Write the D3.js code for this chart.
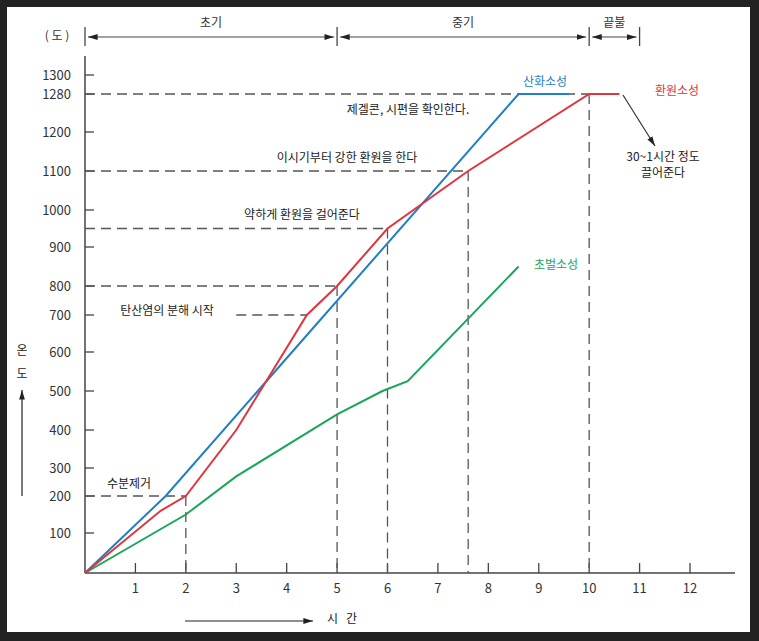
<!DOCTYPE html>
<html><head><meta charset="utf-8">
<script src="https://cdn.jsdelivr.net/npm/d3@7"></script>
<style>body{margin:0;background:#222;} text{font-family:"Noto Sans CJK KR","Noto Sans",sans-serif;}</style>
</head><body>
<svg id="chart" width="759" height="641"></svg>
<script>
// data
var yTicks = [100, 200, 300, 400, 500, 600, 700, 800, 900, 1000, 1100, 1200, 1280, 1300];
var xTicks = [1, 2, 3, 4, 5, 6, 7, 8, 9, 10, 11, 12];
var oxid = [[0, 0], [1.6, 200], [8.6, 1280], [9.6, 1280]];
var reduc = [[0, 0], [1.5, 160], [2, 200], [3, 400], [4.4, 700], [5, 800], [6, 950], [7.6, 1100], [10, 1280], [10.6, 1280]];
var bisque = [[0, 0], [2, 150], [3, 270], [5, 440], [5.9, 500], [6.4, 525], [8.6, 850]];
var phases = [["초기", 0, 5], ["중기", 5, 10], ["끝불", 10, 11]];
// [temp, x start, x end]
var hGuides = [[200, 0, 2], [700, 3.0, 4.4], [800, 0, 5], [950, 0, 6], [1100, 0, 7.6], [1280, 0, 10]];
var vGuides = [[2, 200], [5, 800], [6, 950], [7.6, 1100], [10, 1280]];

var svg = d3.select("#chart");
svg.append("rect").attr("x", 7).attr("y", 7).attr("width", 743).attr("height", 625).attr("fill", "white");

var x = d3.scaleLinear().domain([0, 12]).range([85, 690]);
// the hand drawn temperature axis is not even, so piecewise
var y = d3.scaleLinear()
	.domain([0, 100, 200, 300, 400, 500, 600, 700, 800, 900, 1000, 1100, 1200, 1280, 1300])
	.range([573, 533, 496, 468, 430, 391, 352, 315, 286, 247, 210, 171, 132, 94, 75]);

var ax = "#444";
svg.append("line").attr("x1", 85).attr("x2", 85).attr("y1", 56).attr("y2", 573).attr("stroke", ax).attr("stroke-width", 1.5);
svg.append("line").attr("x1", 85).attr("x2", 735).attr("y1", 573).attr("y2", 573).attr("stroke", ax).attr("stroke-width", 1.5);

svg.selectAll(".yt").data(yTicks).enter().append("line")
	.attr("x1", 85).attr("x2", 94).attr("y1", function(d) { return y(d); }).attr("y2", function(d) { return y(d); })
	.attr("stroke", ax).attr("stroke-width", 1.3);
svg.selectAll(".yl").data(yTicks).enter().append("text")
	.attr("x", 71).attr("y", function(d) { return y(d) + 5; }).attr("text-anchor", "end")
	.attr("font-size", 13).attr("fill", "#333").text(function(d) { return d; });
svg.selectAll(".xt").data(xTicks).enter().append("line")
	.attr("x1", function(d) { return x(d); }).attr("x2", function(d) { return x(d); })
	.attr("y1", 573).attr("y2", 563).attr("stroke", ax).attr("stroke-width", 1.3);
svg.selectAll(".xl").data(xTicks).enter().append("text")
	.attr("x", function(d) { return x(d); }).attr("y", 593).attr("text-anchor", "middle")
	.attr("font-size", 13).attr("fill", "#333").text(function(d) { return d; });

// guides
var dash = "10,6";
svg.selectAll(".hg").data(hGuides).enter().append("line")
	.attr("x1", function(d) { return x(d[1]); }).attr("x2", function(d) { return x(d[2]); })
	.attr("y1", function(d) { return y(d[0]); }).attr("y2", function(d) { return y(d[0]); })
	.attr("stroke", "#555").attr("stroke-width", 1.3).attr("stroke-dasharray", dash);
svg.selectAll(".vg").data(vGuides).enter().append("line")
	.attr("x1", function(d) { return x(d[0]); }).attr("x2", function(d) { return x(d[0]); })
	.attr("y1", function(d) { return y(d[1]); }).attr("y2", 573)
	.attr("stroke", "#555").attr("stroke-width", 1.3).attr("stroke-dasharray", dash);

// phases on top
var defs = svg.append("defs");
defs.append("marker").attr("id", "ah").attr("viewBox", "0 0 10 10").attr("refX", 10).attr("refY", 5)
	.attr("markerWidth", 8).attr("markerHeight", 8).attr("orient", "auto-start-reverse")
	.append("path").attr("d", "M0,2L10,5L0,8Z").attr("fill", "#222");
var bars = [0, 5, 10, 11];
svg.selectAll(".pb").data(bars).enter().append("line")
	.attr("x1", function(d) { return x(d); }).attr("x2", function(d) { return x(d); })
	.attr("y1", 27).attr("y2", 46).attr("stroke", "#444").attr("stroke-width", 1.3);
svg.selectAll(".pa").data(phases).enter().append("line")
	.attr("x1", function(d) { return x(d[1]) + 3; }).attr("x2", function(d) { return x(d[2]) - 3; })
	.attr("y1", 37).attr("y2", 37).attr("stroke", "#444").attr("stroke-width", 1.2)
	.attr("marker-start", "url(#ah)").attr("marker-end", "url(#ah)");
svg.selectAll(".pt").data(phases).enter().append("text")
	.attr("x", function(d) { return (x(d[1]) + x(d[2])) / 2; }).attr("y", 27).attr("text-anchor", "middle")
	.attr("font-size", 12).attr("fill", "#333").text(function(d) { return d[0]; });
svg.append("text").attr("x", 57).attr("y", 40).attr("text-anchor", "middle").attr("font-size", 12).attr("fill", "#333").text("(  도  )");

// series
var line = d3.line().x(function(d) { return x(d[0]); }).y(function(d) { return y(d[1]); });
var series = [[oxid, "#1f7fc4"], [bisque, "#1aa65a"], [reduc, "#e0353f"]];
series.forEach(function(s) {
	svg.append("path").attr("d", line(s[0])).attr("fill", "none").attr("stroke", s[1]).attr("stroke-width", 2);
});
svg.append("text").attr("x", 545).attr("y", 86).attr("text-anchor", "middle").attr("font-size", 12).attr("fill", "#1f7fc4").text("산화소성");
svg.append("text").attr("x", 677).attr("y", 95).attr("text-anchor", "middle").attr("font-size", 12).attr("fill", "#e0353f").text("환원소성");
svg.append("text").attr("x", 556).attr("y", 269).attr("text-anchor", "middle").attr("font-size", 12).attr("fill", "#1aa65a").text("초벌소성");

// notes
function note(t, cx, cy) {
	svg.append("text").attr("x", cx).attr("y", cy).attr("text-anchor", "middle").attr("font-size", 12).attr("fill", "#222").text(t);
}
note("제겔콘, 시편을 확인한다.", 408, 114);
note("이시기부터 강한 환원을 한다", 347, 162);
note("약하게 환원을 걸어준다", 302, 219);
note("탄산염의 분해 시작", 167, 315);
note("수분제거", 129, 488);
note("30~1시간 정도", 663, 161);
note("끌어준다", 663, 177);
svg.append("line").attr("x1", 623).attr("y1", 95).attr("x2", 655).attr("y2", 146)
	.attr("stroke", "#333").attr("stroke-width", 1.2).attr("marker-end", "url(#ah)");

// axis titles
note("온", 22, 355);
note("도", 22, 378);
svg.append("line").attr("x1", 22).attr("x2", 22).attr("y1", 496).attr("y2", 390)
	.attr("stroke", "#222").attr("stroke-width", 1.2).attr("marker-end", "url(#ah)");
svg.append("line").attr("x1", 185).attr("x2", 313).attr("y1", 621).attr("y2", 621)
	.attr("stroke", "#222").attr("stroke-width", 1.2).attr("marker-end", "url(#ah)");
svg.append("text").attr("x", 327).attr("y", 623).attr("font-size", 12).attr("fill", "#222").attr("xml:space", "preserve").text("시   간");
</script>
</body></html>
